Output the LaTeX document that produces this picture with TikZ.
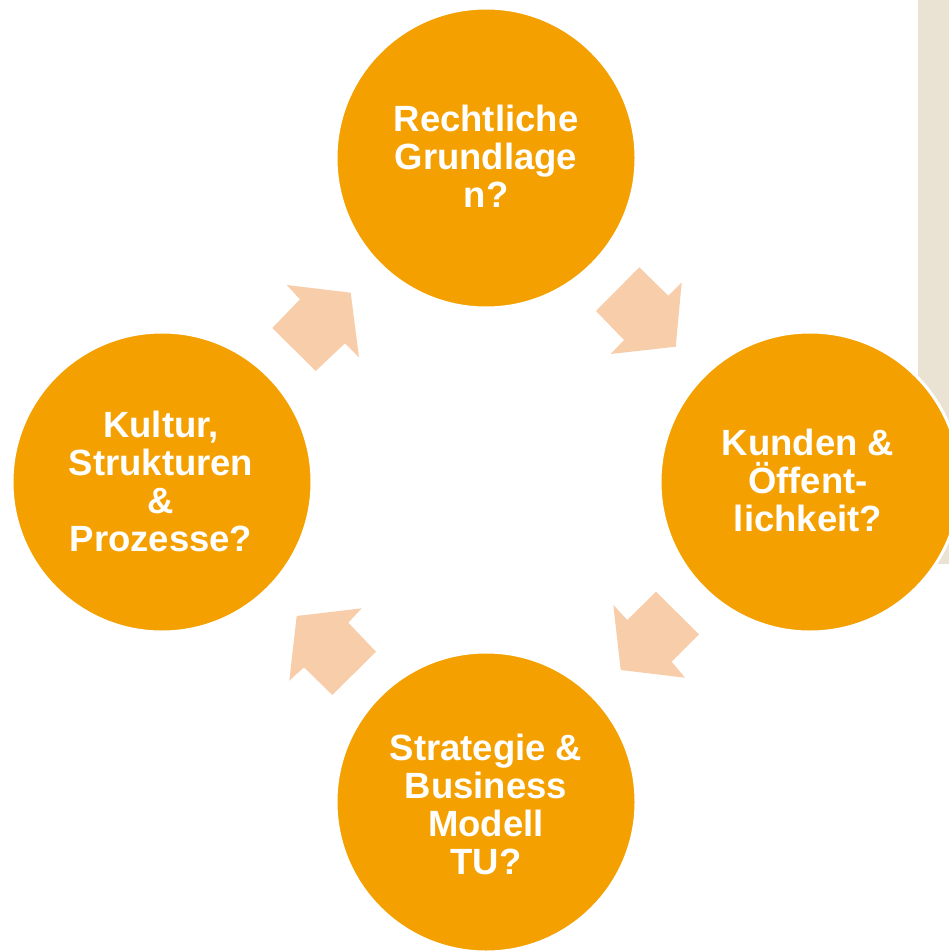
\documentclass[tikz,border=0pt]{standalone}
\usepackage{fontspec}
\setmainfont{Liberation Sans}
\definecolor{orng}{HTML}{F4A000}
\definecolor{peach}{HTML}{F7CDAA}
\definecolor{beigebg}{HTML}{EAE3D4}
\begin{document}
\begin{tikzpicture}[x=1pt,y=-1pt,
  circ/.style={circle, fill=orng, draw=white, line width=3pt, minimum size=300pt, inner sep=0pt},
  lbl/.style={text=white, font=\fontsize{36.5}{38}\selectfont\bfseries, align=center, inner sep=0pt},
  arr/.style={fill=peach}]
\useasboundingbox (0,0) rectangle (949,952);
\fill[beigebg] (918,0) rectangle (949,564);
% circles
\node[circ] (top) at (486,158) {};
\node[circ] (right) at (810,482) {};
\node[circ] (bottom) at (486,802) {};
\node[circ] (left) at (162,482) {};
% labels
\node[lbl] (toplbl) at (486,156) {Rechtliche\\Grundlage\\n?};
\node[lbl] (rightlbl) at (808,480) {Kunden \&\\Öffent-\\lichkeit?};
\node[lbl] (bottomlbl) at (486,804) {Strategie \&\\Business\\Modell\\TU?};
\node[lbl] (leftlbl) at (161,481) {Kultur,\\Strukturen\\\&\\Prozesse?};
% arrows
\fill[arr] (639.3,267.3) -- (668.3,295.7) -- (681.7,282.3) -- (675.7,346.7) -- (610.7,354) -- (624,340) -- (596,311) -- cycle;
\fill[arr] (656,591.7) -- (699,634.3) -- (671.7,661.7) -- (685,677.7) -- (620.7,670) -- (613.3,605) -- (627.3,620) -- cycle;
\fill[arr] (376,651.7) -- (332.3,695) -- (304,667.3) -- (289.3,680.7) -- (296.7,616) -- (361.7,608.3) -- (348.3,622.7) -- cycle;
\fill[arr] (272.3,328) -- (300,299.3) -- (286.7,285) -- (350.7,292.7) -- (359,357.3) -- (345,343.3) -- (315.7,371) -- cycle;
\end{tikzpicture}
\end{document}
